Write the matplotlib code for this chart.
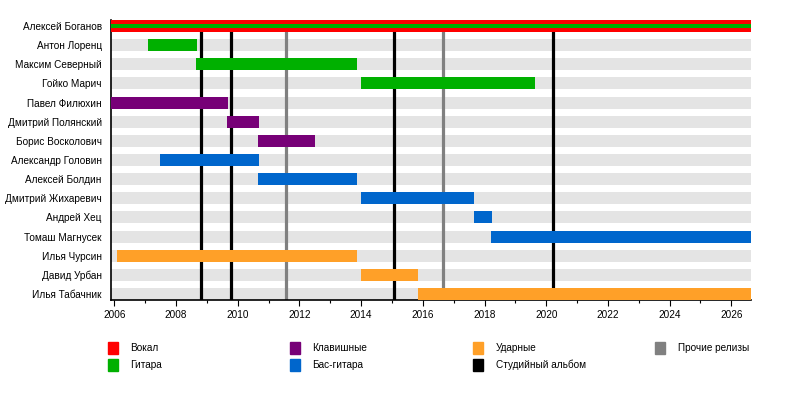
import matplotlib.pyplot as plt
from matplotlib.patches import Rectangle
from matplotlib.ticker import MultipleLocator

plt.rcParams['font.family'] = ['Liberation Sans', 'DejaVu Sans']

# members, start/end years and role
members = ['Алексей Боганов', 'Антон Лоренц', 'Максим Северный', 'Гойко Марич',
           'Павел Филюхин', 'Дмитрий Полянский', 'Борис Восколович',
           'Александр Головин', 'Алексей Болдин', 'Дмитрий Жихаревич',
           'Андрей Хец', 'Томаш Магнусек', 'Илья Чурсин', 'Давид Урбан',
           'Илья Табачник']
starts = [2005.88, 2007.09, 2008.65, 2013.99, 2005.88, 2009.65, 2010.66,
          2007.48, 2010.66, 2013.99, 2017.66, 2018.21, 2006.09, 2013.99, 2015.84]
ends = [2026.64, 2008.68, 2013.87, 2019.63, 2009.69, 2010.69, 2012.51,
        2010.69, 2013.87, 2017.66, 2018.24, 2026.64, 2013.87, 2015.84, 2026.64]
roles = ['Вокал', 'Гитара', 'Гитара', 'Гитара', 'Клавишные', 'Клавишные',
         'Клавишные', 'Бас-гитара', 'Бас-гитара', 'Бас-гитара', 'Бас-гитара',
         'Бас-гитара', 'Ударные', 'Ударные', 'Ударные']
# Боганов also plays guitar (thin stripe inside his bar)
second_role = {0: 'Гитара'}

studio_albums = [2008.81, 2009.78, 2015.07, 2020.23]
other_releases = [2011.56, 2016.66]

role_colors = {
    'Вокал': '#ff0000',
    'Гитара': '#00b000',
    'Клавишные': '#770077',
    'Бас-гитара': '#0066cc',
    'Ударные': '#ffa028',
}
legend_items = [('Вокал', '#ff0000'), ('Гитара', '#00b000'),
                ('Клавишные', '#770077'), ('Бас-гитара', '#0066cc'),
                ('Ударные', '#ffa028'), ('Студийный альбом', '#000000'),
                ('Прочие релизы', '#808080')]

x_min, x_max = 2005.88, 2026.64
bar_h = 0.627

fig = plt.figure(figsize=(8, 4), dpi=100)
ax = fig.add_axes([110.7 / 800, 0.25, (751 - 110.7) / 800, 0.70])

rows = list(range(len(members)))

# light grey background bands
ax.barh(rows, x_max - x_min, left=x_min, height=bar_h, color='#e4e4e4', zorder=1)

# release lines
for x in studio_albums:
    ax.axvline(x, color='black', lw=2.3, zorder=2)
for x in other_releases:
    ax.axvline(x, color='#808080', lw=2.3, zorder=2)

# member bars
for i in rows:
    ax.barh(i, ends[i] - starts[i], left=starts[i], height=bar_h,
            color=role_colors[roles[i]], zorder=3)
    if i in second_role:
        ax.barh(i, ends[i] - starts[i], left=starts[i], height=bar_h / 3,
                color=role_colors[second_role[i]], zorder=4)

ax.set_xlim(x_min, x_max)
ax.set_ylim(len(members) - 1 + 0.313, -0.313)
ax.set_yticks(rows)
ax.set_yticklabels(members, fontsize=7.2)
ax.tick_params(axis='y', length=0, pad=6.5)

ax.xaxis.set_major_locator(MultipleLocator(2))
ax.xaxis.set_minor_locator(MultipleLocator(1))
ax.tick_params(axis='x', which='major', direction='out', length=4, width=0.8,
               labelsize=7.2, pad=3)
ax.tick_params(axis='x', which='minor', direction='out', length=2.5, width=0.8)

for side in ['top', 'right']:
    ax.spines[side].set_visible(False)
ax.spines['left'].set_linewidth(1.2)
ax.spines['bottom'].set_linewidth(1.2)

# legend in two rows, column-wise
col_x = [108, 290, 473, 655]
row_y = [348.3, 365]
for k, (label, color) in enumerate(legend_items):
    cx = col_x[k // 2]
    cy = row_y[k % 2]
    fig.add_artist(Rectangle((cx / 800, (400 - cy - 6) / 400), 10 / 800, 12 / 400,
                             transform=fig.transFigure, color=color))
    fig.text((cx + 22.5) / 800, (400 - cy) / 400, label, fontsize=7.2,
             va='center', ha='left')

fig.savefig('out.png', dpi=100)
